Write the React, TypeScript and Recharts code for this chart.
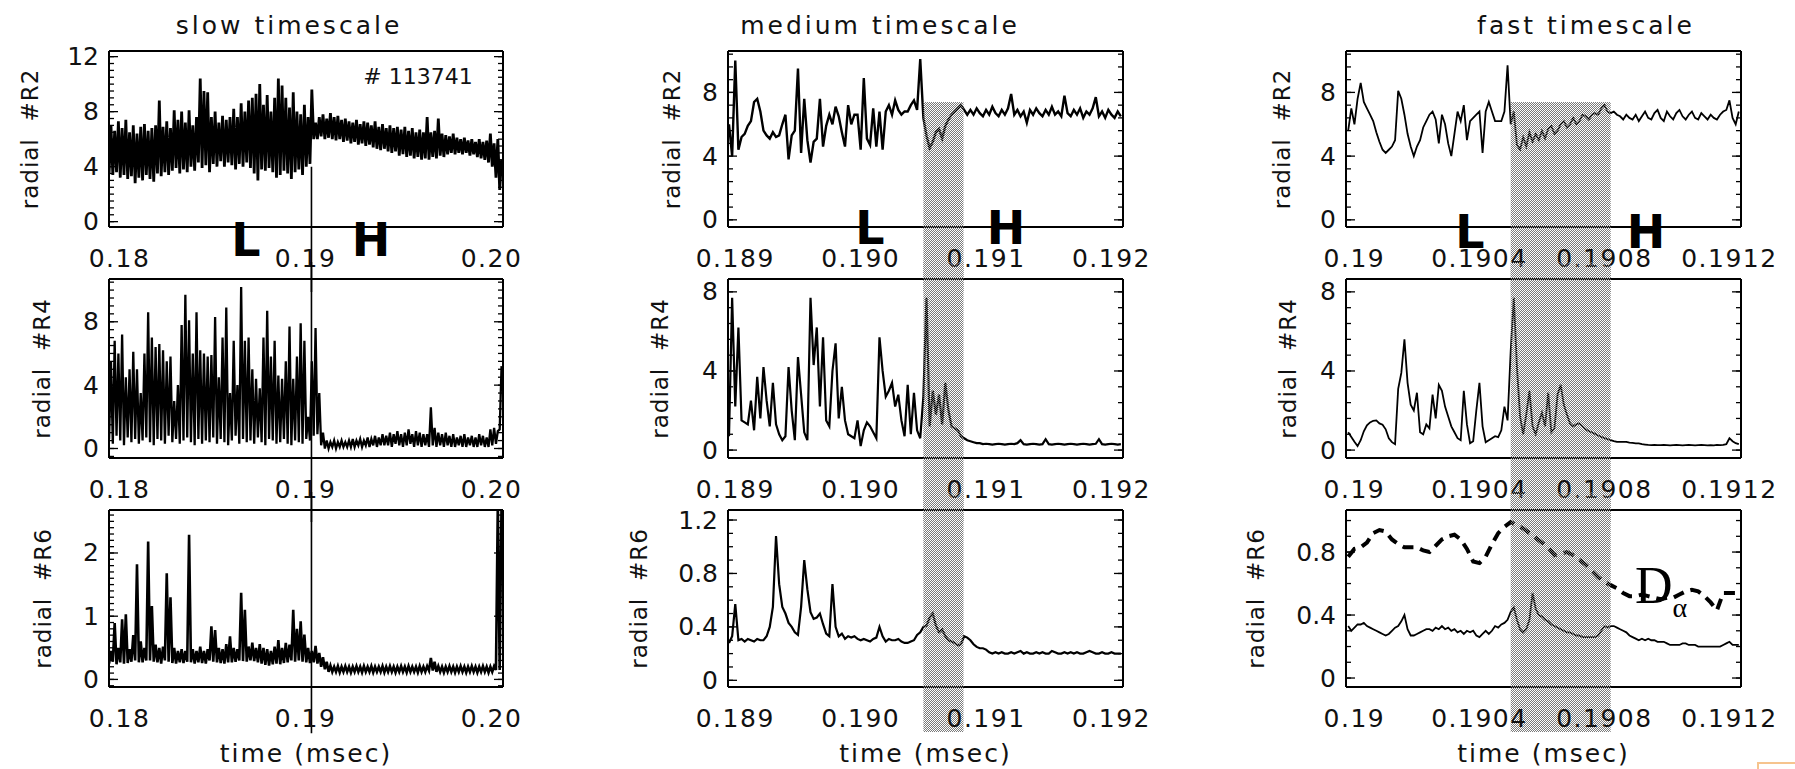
import React from 'react';
import { LineChart, Line, XAxis, YAxis, ReferenceArea, ReferenceLine } from 'recharts';

const FONT = '"DejaVu Sans", Verdana, sans-serif';
const INK = '#000';

const SLOW_T0 = 0.17944;
const SLOW_DT = 0.0002;
const MED_T0 = 0.18895;
const MED_DT = 0.000025;
const FAST_T0 = 0.18998;
const FAST_DT = 0.00001;
const DA_DT = 0.00002;

const LH_TIME = 0.19032;
const SHADE_T = [0.1905, 0.19082];

// ---- slow timescale: lower / upper envelope of the dense signal ----
const slowR2Lo = [
  3.5, 3.4, 3.6, 3.2, 3.4, 3.1, 3.3, 2.8, 3.2, 3.0,
  3.4, 3.1, 2.9, 3.5, 3.3, 3.6, 3.4, 3.7, 3.9, 3.5,
  3.8, 3.6, 4.0, 3.7, 4.3, 3.9, 4.1, 3.6, 4.2, 4.0,
  4.4, 4.0, 4.3, 4.1, 3.8, 4.2, 4.0, 4.3, 3.9, 3.5,
  3.0, 3.8, 3.7, 3.9, 3.6, 3.2, 3.4, 3.7, 3.5, 3.1,
  3.6, 3.8, 3.4, 4.0, 4.2, 6.0, 6.0, 6.2, 6.0, 6.1,
  6.0, 5.9, 6.0, 5.8, 5.9, 5.7, 5.8, 5.6, 5.7, 5.5,
  5.6, 5.4, 5.3, 5.2, 5.3, 5.1, 5.0, 5.1, 4.8, 4.9,
  4.7, 4.8, 4.6, 4.7, 4.5, 4.6, 4.5, 4.7, 4.6, 4.8,
  4.7, 4.9, 5.0, 4.9, 5.0, 4.9, 5.0, 4.8, 4.9, 4.7,
  4.6, 4.5, 4.3, 4.0, 3.2, 2.3,
];
const slowR2Hi = [
  7.0, 6.6, 7.3, 6.8, 7.4, 6.5, 7.0, 6.4, 6.9, 7.1,
  6.6, 6.8, 7.0, 8.8, 6.9, 7.3, 6.8, 8.1, 7.4, 8.0,
  7.2, 8.1, 7.0, 7.6, 10.4, 9.5, 9.4, 7.6, 8.0, 7.2,
  7.7, 7.4, 7.6, 8.2, 7.6, 8.6, 8.0, 8.8, 9.0, 9.3,
  10.0, 8.5, 9.2, 8.0, 9.0, 10.4, 9.9, 9.0, 8.3, 9.4,
  8.0, 7.8, 8.5, 7.6, 9.6, 7.2, 7.6, 7.8, 7.5, 7.9,
  7.6, 7.7, 7.4, 7.5, 7.3, 7.2, 7.4, 7.1, 7.3, 7.2,
  7.0, 7.3, 6.9, 7.1, 6.8, 7.0, 6.8, 6.9, 6.7, 6.9,
  6.6, 6.8, 6.5, 6.7, 6.5, 7.6, 6.5, 6.6, 7.5, 6.4,
  6.3, 6.2, 6.4, 6.1, 6.0, 6.1, 5.9, 6.0, 5.8, 6.0,
  5.8, 5.9, 6.4, 5.7, 6.0, 4.5,
];
const slowR4Lo = [
  0.6, 0.3, 0.8, 0.5, 0.2, 0.7, 0.4, 0.6, 0.3, 0.5,
  0.7, 0.4, 0.2, 0.6, 0.5, 0.3, 0.8, 0.4, 0.6, 0.3,
  0.5, 0.7, 0.4, 0.2, 0.6, 0.3, 0.5, 0.4, 0.7, 0.3,
  0.6, 0.4, 0.2, 0.5, 0.8, 0.3, 0.6, 0.4, 0.5, 0.3,
  0.7, 0.4, 0.2, 0.6, 0.5, 0.3, 0.4, 0.6, 0.3, 0.2,
  0.5, 0.4, 0.3, 0.6, 0.5, 0.8, 0.9, 0.2, 0.0, 0.0,
  0.1, 0.0, 0.1, 0.1, 0.1, 0.1, 0.1, 0.2, 0.1, 0.2,
  0.1, 0.2, 0.1, 0.2, 0.2, 0.2, 0.1, 0.3, 0.2, 0.1,
  0.2, 0.3, 0.1, 0.2, 0.1, 0.2, 0.1, 0.2, 0.1, 0.2,
  0.1, 0.2, 0.1, 0.1, 0.2, 0.1, 0.1, 0.2, 0.1, 0.1,
  0.2, 0.1, 0.1, 0.2, 0.3, 1.2,
];
const slowR4Hi = [
  5.5, 6.8, 6.0, 7.2, 4.5, 5.0, 6.1, 5.0, 3.5, 6.0,
  8.6, 7.0, 6.4, 6.6, 6.2, 5.5, 5.8, 3.0, 4.0, 7.8,
  9.7, 8.1, 6.0, 8.6, 6.2, 6.0, 5.8, 5.9, 8.3, 4.5,
  7.0, 8.9, 3.5, 6.8, 4.0, 10.2, 6.8, 7.0, 5.0, 4.4,
  3.8, 7.0, 8.7, 5.8, 6.8, 4.6, 4.4, 5.5, 7.7, 4.4,
  5.8, 7.9, 6.8, 2.0, 5.5, 7.6, 3.5, 1.0, 0.5, 0.4,
  0.5, 0.4, 0.5, 0.4, 0.5, 0.6, 0.5, 0.6, 0.5, 0.7,
  0.6, 0.8, 0.7, 0.9, 0.8, 1.0, 0.9, 1.1, 0.9, 1.0,
  1.2, 0.9, 1.1, 1.0, 0.9, 0.9, 2.6, 1.3, 1.0, 0.9,
  1.0, 0.8, 0.9, 0.7, 0.8, 0.9, 0.7, 0.8, 0.7, 0.9,
  0.8, 0.7, 1.2, 1.3, 1.1, 5.2,
];
const slowR6Lo = [
  0.25, 0.28, 0.24, 0.27, 0.25, 0.26, 0.28, 0.30, 0.27, 0.27,
  0.30, 0.30, 0.28, 0.27, 0.25, 0.30, 0.28, 0.26, 0.25, 0.27,
  0.26, 0.28, 0.27, 0.25, 0.27, 0.26, 0.25, 0.30, 0.28, 0.27,
  0.26, 0.25, 0.27, 0.27, 0.28, 0.30, 0.29, 0.28, 0.30, 0.29,
  0.27, 0.25, 0.23, 0.22, 0.24, 0.25, 0.24, 0.26, 0.27, 0.30,
  0.28, 0.30, 0.28, 0.27, 0.26, 0.27, 0.25, 0.20, 0.16, 0.12,
  0.12, 0.12, 0.11, 0.12, 0.12, 0.11, 0.12, 0.12, 0.11, 0.12,
  0.12, 0.11, 0.12, 0.12, 0.11, 0.12, 0.12, 0.11, 0.12, 0.12,
  0.11, 0.12, 0.12, 0.11, 0.12, 0.12, 0.14, 0.14, 0.12, 0.12,
  0.11, 0.12, 0.12, 0.11, 0.12, 0.12, 0.11, 0.12, 0.12, 0.11,
  0.12, 0.12, 0.11, 0.12, 0.15, 0.15,
];
const slowR6Hi = [
  0.45, 0.89, 0.50, 0.95, 1.03, 0.48, 0.70, 1.82, 0.60, 0.50,
  2.18, 1.16, 0.55, 0.50, 0.52, 1.68, 1.30, 0.50, 0.45, 0.48,
  0.45, 2.29, 0.48, 0.45, 0.52, 0.45, 0.48, 0.84, 0.78, 0.50,
  0.48, 0.56, 0.68, 0.50, 0.48, 1.37, 1.10, 0.52, 0.58, 0.50,
  0.56, 0.50, 0.48, 0.45, 0.52, 0.62, 0.50, 0.58, 0.55, 1.10,
  0.80, 0.92, 0.71, 0.50, 0.45, 0.53, 0.42, 0.35, 0.28, 0.22,
  0.20, 0.21, 0.20, 0.21, 0.20, 0.20, 0.21, 0.20, 0.21, 0.20,
  0.21, 0.20, 0.20, 0.21, 0.20, 0.21, 0.20, 0.20, 0.21, 0.20,
  0.21, 0.20, 0.20, 0.21, 0.20, 0.21, 0.34, 0.28, 0.21, 0.20,
  0.20, 0.21, 0.20, 0.20, 0.21, 0.20, 0.20, 0.21, 0.20, 0.20,
  0.21, 0.20, 0.20, 0.21, 2.80, 2.80,
];

// ---- medium timescale ----
const medR2 = [
  6.0, 4.0, 10.0, 4.4, 5.2, 5.4, 5.9, 6.2, 7.4, 7.6,
  6.8, 5.6, 5.3, 5.1, 5.5, 5.2, 5.3, 6.0, 6.6, 3.8,
  5.3, 5.6, 9.5, 4.2, 7.6, 5.0, 3.6, 4.9, 5.1, 7.6,
  4.6, 5.9, 6.6, 6.0, 7.1, 6.5, 5.5, 4.6, 7.2, 6.0,
  6.6, 6.6, 4.4, 8.9, 5.1, 4.7, 7.0, 4.6, 6.8, 4.4,
  6.8, 7.2, 6.6, 7.5, 6.9, 6.6, 6.8, 6.8, 7.2, 7.5,
  6.9, 10.1, 6.4, 5.3, 4.5, 4.9, 5.5, 5.7, 5.1, 5.9,
  6.3, 6.6, 6.8, 7.0, 7.2, 6.9, 6.6, 6.9, 6.6, 7.0,
  6.7, 6.5, 6.9, 6.6, 7.1, 6.7, 6.5, 6.9, 6.6, 7.0,
  7.9, 6.6, 6.9, 6.5, 6.8, 6.1, 6.9, 6.6, 7.0, 6.7,
  6.5, 6.9, 6.6, 7.1, 6.6, 6.8, 6.5, 7.8, 6.7, 6.5,
  6.9, 6.6, 7.0, 6.4, 6.8, 6.6, 7.0, 7.7, 6.5, 6.8,
  6.4, 6.9, 6.6, 6.4, 6.8, 6.5,
];
const medR4 = [
  0.7, 7.7, 2.2, 6.2, 1.5, 1.4, 1.3, 2.5, 1.0, 3.7,
  1.6, 4.2, 2.5, 1.2, 3.4, 1.3, 0.8, 0.5, 0.7, 4.2,
  2.0, 0.5, 4.7, 2.8, 0.9, 0.5, 7.7, 4.3, 6.2, 2.2,
  5.7, 1.5, 1.2, 4.0, 5.4, 1.6, 3.2, 1.5, 0.8, 0.7,
  0.6, 1.5, 0.2, 1.0, 1.4, 1.2, 0.9, 0.6, 5.7, 4.0,
  2.7, 3.0, 3.4, 2.2, 2.8, 1.5, 0.7, 3.3, 0.8, 2.9,
  1.0, 0.6, 2.7, 7.7, 1.2, 3.0, 1.8, 2.8, 1.3, 3.4,
  2.0, 1.2, 1.1, 1.0, 0.7, 0.6, 0.5, 0.45, 0.4, 0.35,
  0.35, 0.3, 0.32, 0.3, 0.28, 0.3, 0.32, 0.3, 0.28, 0.3,
  0.32, 0.3, 0.35, 0.5, 0.3, 0.28, 0.3, 0.32, 0.3, 0.28,
  0.3, 0.55, 0.3, 0.28, 0.3, 0.32, 0.3, 0.28, 0.3, 0.32,
  0.3, 0.28, 0.3, 0.32, 0.3, 0.28, 0.3, 0.32, 0.55, 0.3,
  0.28, 0.3, 0.32, 0.3, 0.28, 0.3,
];
const medR6 = [
  0.28, 0.33, 0.57, 0.30, 0.31, 0.29, 0.31, 0.30, 0.29, 0.31,
  0.30, 0.30, 0.33, 0.40, 0.55, 1.08, 0.72, 0.55, 0.50, 0.43,
  0.40, 0.36, 0.34, 0.55, 0.90, 0.68, 0.51, 0.46, 0.47, 0.50,
  0.42, 0.35, 0.33, 0.72, 0.40, 0.33, 0.35, 0.31, 0.33, 0.32,
  0.33, 0.31, 0.30, 0.31, 0.30, 0.29, 0.31, 0.32, 0.40, 0.33,
  0.29, 0.31, 0.30, 0.30, 0.31, 0.29, 0.28, 0.28, 0.29, 0.30,
  0.34, 0.36, 0.40, 0.41, 0.47, 0.50, 0.41, 0.36, 0.38, 0.33,
  0.30, 0.29, 0.28, 0.26, 0.27, 0.33, 0.32, 0.30, 0.27, 0.25,
  0.24, 0.24, 0.23, 0.21, 0.20, 0.21, 0.20, 0.21, 0.20, 0.20,
  0.21, 0.20, 0.21, 0.22, 0.20, 0.21, 0.20, 0.20, 0.21, 0.20,
  0.21, 0.20, 0.20, 0.22, 0.21, 0.20, 0.20, 0.21, 0.20, 0.21,
  0.20, 0.21, 0.20, 0.20, 0.21, 0.22, 0.21, 0.20, 0.20, 0.21,
  0.20, 0.20, 0.21, 0.20, 0.20, 0.20,
];

// ---- fast timescale ----
const fastR2 = [
  5.6, 7.0, 6.0, 7.6, 8.6, 7.4, 7.0, 6.6, 6.2, 5.5,
  4.9, 4.4, 4.2, 4.4, 4.6, 5.0, 8.1, 7.6, 6.6, 5.4,
  4.6, 4.0, 4.6, 5.0, 5.8, 6.2, 6.6, 6.8, 6.3, 4.8,
  6.6, 6.0, 4.8, 4.0, 5.4, 6.8, 6.2, 7.2, 5.0, 6.2,
  6.4, 6.6, 6.8, 4.2, 6.8, 7.4, 6.8, 6.2, 6.2, 6.2,
  6.8, 9.7, 6.0, 6.8, 4.7, 4.4, 5.2, 4.6, 5.5, 4.9,
  5.4, 5.0, 5.6, 5.1, 5.7, 5.9, 5.4, 5.6, 6.0, 6.2,
  5.8, 6.0, 6.4, 6.0, 6.2, 6.6, 6.5, 6.3, 6.6, 6.7,
  6.6, 7.0, 7.2, 6.8, 6.7, 6.8, 6.6, 6.5, 6.3, 6.6,
  6.4, 6.3, 6.6, 6.2, 6.5, 6.8, 6.4, 6.3, 6.7, 6.9,
  6.4, 6.2, 6.8, 6.5, 6.3, 6.7, 6.9, 6.5, 6.3, 6.6,
  6.8, 6.4, 6.3, 6.7, 6.5, 6.3, 6.6, 6.4, 6.3, 6.6,
  6.8, 6.9, 7.5, 6.4, 6.0, 6.8,
];
const fastR4 = [
  0.9, 0.66, 0.42, 0.2, 0.5, 0.95, 1.25, 1.4, 1.48, 1.5,
  1.35, 1.28, 1.05, 0.6, 0.4, 0.3, 3.1, 3.9, 5.6, 3.4,
  2.3, 2.0, 2.9, 0.9, 0.8, 1.3, 1.1, 2.8, 1.6, 3.3,
  3.0, 2.2, 1.7, 1.2, 0.9, 0.6, 0.5, 3.0, 1.3, 0.35,
  0.45, 2.0, 3.4, 1.2, 0.4, 0.5, 0.6, 0.7, 0.65, 1.0,
  2.2, 1.5, 5.0, 7.7, 4.2, 1.7, 0.8, 1.8, 3.0, 1.2,
  0.8, 1.4, 1.9, 1.2, 2.9, 0.9, 1.1, 2.8, 3.3, 2.3,
  1.8, 1.35, 1.2, 1.3, 1.35, 1.2, 1.05, 0.95, 0.9, 0.82,
  0.74, 0.67, 0.6, 0.55, 0.5, 0.45, 0.42, 0.42, 0.42, 0.42,
  0.38, 0.36, 0.34, 0.34, 0.3, 0.28, 0.26, 0.25, 0.26, 0.25,
  0.25, 0.26, 0.25, 0.24, 0.25, 0.26, 0.25, 0.24, 0.25, 0.26,
  0.25, 0.24, 0.25, 0.26, 0.25, 0.24, 0.25, 0.24, 0.26, 0.25,
  0.26, 0.3, 0.6, 0.45, 0.35, 0.3,
];
const fastR6 = [
  0.33, 0.30, 0.32, 0.34, 0.34, 0.35, 0.33, 0.32, 0.31, 0.30,
  0.29, 0.28, 0.27, 0.28, 0.30, 0.32, 0.33, 0.36, 0.40, 0.31,
  0.27, 0.27, 0.28, 0.29, 0.30, 0.31, 0.31, 0.30, 0.32, 0.31,
  0.33, 0.31, 0.32, 0.30, 0.31, 0.29, 0.30, 0.28, 0.30, 0.29,
  0.30, 0.27, 0.26, 0.28, 0.30, 0.28, 0.30, 0.33, 0.32, 0.34,
  0.35, 0.37, 0.42, 0.45, 0.37, 0.31, 0.29, 0.31, 0.37, 0.54,
  0.44, 0.40, 0.39, 0.37, 0.36, 0.34, 0.33, 0.32, 0.31, 0.30,
  0.29, 0.29, 0.28, 0.27, 0.27, 0.26, 0.26, 0.26, 0.26, 0.26,
  0.27, 0.30, 0.33, 0.32, 0.33, 0.33, 0.32, 0.31, 0.30, 0.29,
  0.27, 0.26, 0.25, 0.24, 0.25, 0.24, 0.25, 0.24, 0.24, 0.23,
  0.23, 0.23, 0.22, 0.21, 0.21, 0.21, 0.21, 0.22, 0.22, 0.21,
  0.21, 0.21, 0.20, 0.20, 0.20, 0.20, 0.20, 0.20, 0.20, 0.20,
  0.21, 0.22, 0.23, 0.21, 0.21, 0.21,
];
// D-alpha (dashed), coarser sampling
const fastDa = [
  0.77, 0.82, 0.83, 0.86, 0.92, 0.94, 0.93, 0.88, 0.85, 0.83,
  0.83, 0.83, 0.81, 0.80, 0.84, 0.88, 0.90, 0.91, 0.88, 0.82,
  0.74, 0.73, 0.77, 0.85, 0.92, 0.96, 0.99, 0.97, 0.95, 0.92,
  0.89, 0.86, 0.83, 0.78, 0.79, 0.80, 0.78, 0.75, 0.72, 0.68,
  0.64, 0.61, 0.59, 0.57, 0.54, 0.52, 0.52, 0.53, 0.52, 0.51,
  0.50, 0.51, 0.51, 0.53, 0.55, 0.56, 0.55, 0.52, 0.48, 0.43,
  0.54, 0.54, 0.54,
];

// ---- tick labels ----
const slowXTicks = [0.18, 0.19, 0.2];
const slowXLabels = ['0.18', '0.19', '0.20'];
const medXTicks = [0.189, 0.19, 0.191, 0.192];
const medXLabels = ['0.189', '0.190', '0.191', '0.192'];
const fastXTicks = [0.19, 0.1904, 0.1908, 0.1912];
const fastXLabels = ['0.19', '0.1904', '0.1908', '0.1912'];

type Pt = { t: number; v: number };
const series = (vals: number[], t0: number, dt: number): Pt[] =>
  vals.map((v, i) => ({ t: t0 + i * dt, v }));
const band = (lo: number[], hi: number[], t0: number, dt: number): Pt[] =>
  lo.flatMap((l, i) => [
    { t: t0 + i * dt, v: l },
    { t: t0 + (i + 0.5) * dt, v: hi[i] },
  ]);
const steps = (a: number, b: number, s: number) => {
  const out: number[] = [];
  for (let k = Math.ceil(a / s - 1e-6); k * s <= b + 1e-12; k++) out.push(+(k * s).toFixed(8));
  return out;
};
const labelOf = (ticks: number[], labels: string[], v: number) => {
  const i = ticks.findIndex((t) => Math.abs(t - v) < 1e-9);
  return i >= 0 ? labels[i] : '';
};

// layout (pixels); row svgs overlap a little, starting on even pixels so the stipple lines up
const colBox = [[109, 503], [728, 1123], [1346, 1741]];
const rowBox = [[51, 227], [279, 458], [510, 687]];
const colSvg = [[0, 615], [615, 1235], [1235, 1795]];
const rowSvg = [[0, 292], [262, 522], [492, 769]];
const Y_W = 40;
const X_H = 30;

type LineSpec = { data: Pt[]; width: number; dash?: string };
type PanelCfg = {
  key: string; col: number; row: number;
  xDomain: [number, number]; xTicks: number[]; xLabels: string[]; xMajor: number; xMinor: number;
  yDomain: [number, number]; yTicks: number[]; yLabels: string[]; yMinor: number;
  yTitle: string; titleGap: number;
  lines: LineSpec[];
  shade?: [number, number]; lh?: [number, number]; time?: boolean;
};

const SLOW_X: [number, number] = [0.179435, 0.200618];
const MED_X: [number, number] = [0.188942, 0.192092];
const FAST_X: [number, number] = [0.189973, 0.191237];

const slowCommon = { col: 0, xDomain: SLOW_X, xTicks: slowXTicks, xLabels: slowXLabels, xMajor: 0.005, xMinor: 0.001 };
const medCommon = { col: 1, xDomain: MED_X, xTicks: medXTicks, xLabels: medXLabels, xMajor: 0.0005, xMinor: 0.0001 };
const fastCommon = { col: 2, xDomain: FAST_X, xTicks: fastXTicks, xLabels: fastXLabels, xMajor: 0.0002, xMinor: 0.00005 };

const panels: PanelCfg[] = [
  { key: 's2', ...slowCommon, row: 0, yDomain: [-0.39, 12.41], yTicks: [0, 4, 8, 12], yLabels: ['0', '4', '8', '12'], yMinor: 0.5,
    yTitle: 'radial  #R2', titleGap: 79, lines: [{ data: band(slowR2Lo, slowR2Hi, SLOW_T0, SLOW_DT), width: 2.8 }], lh: [4.0, -40] },
  { key: 's4', ...slowCommon, row: 1, yDomain: [-0.6, 10.7], yTicks: [0, 4, 8], yLabels: ['0', '4', '8'], yMinor: 0.5,
    yTitle: 'radial  #R4', titleGap: 67, lines: [{ data: band(slowR4Lo, slowR4Hi, SLOW_T0, SLOW_DT), width: 2.3 }], lh: [40, -40] },
  { key: 's6', ...slowCommon, row: 2, yDomain: [-0.12, 2.68], yTicks: [0, 1, 2], yLabels: ['0', '1', '2'], yMinor: 0.1,
    yTitle: 'radial  #R6', titleGap: 66, lines: [{ data: band(slowR6Lo, slowR6Hi, SLOW_T0, SLOW_DT), width: 2.6 }], lh: [5, -0.85], time: true },
  { key: 'm2', ...medCommon, row: 0, yDomain: [-0.45, 10.6], yTicks: [0, 4, 8], yLabels: ['0', '4', '8'], yMinor: 0.8,
    yTitle: 'radial  #R2', titleGap: 56, lines: [{ data: series(medR2, MED_T0, MED_DT), width: 2.4 }], shade: [7.4, -40] },
  { key: 'm4', ...medCommon, row: 1, yDomain: [-0.4, 8.65], yTicks: [0, 4, 8], yLabels: ['0', '4', '8'], yMinor: 0.8,
    yTitle: 'radial  #R4', titleGap: 68, lines: [{ data: series(medR4, MED_T0, MED_DT), width: 2.2 }], shade: [40, -40] },
  { key: 'm6', ...medCommon, row: 2, yDomain: [-0.05, 1.275], yTicks: [0, 0.4, 0.8, 1.2], yLabels: ['0', '0.4', '0.8', '1.2'], yMinor: 0.1,
    yTitle: 'radial  #R6', titleGap: 89, lines: [{ data: series(medR6, MED_T0, MED_DT), width: 2.2 }], shade: [5, -0.387], time: true },
  { key: 'f2', ...fastCommon, row: 0, yDomain: [-0.45, 10.6], yTicks: [0, 4, 8], yLabels: ['0', '4', '8'], yMinor: 0.8,
    yTitle: 'radial  #R2', titleGap: 64, lines: [{ data: series(fastR2, FAST_T0, FAST_DT), width: 1.8 }], shade: [7.4, -40] },
  { key: 'f4', ...fastCommon, row: 1, yDomain: [-0.4, 8.65], yTicks: [0, 4, 8], yLabels: ['0', '4', '8'], yMinor: 0.8,
    yTitle: 'radial  #R4', titleGap: 58, lines: [{ data: series(fastR4, FAST_T0, FAST_DT), width: 1.8 }], shade: [40, -40] },
  { key: 'f6', ...fastCommon, row: 2, yDomain: [-0.057, 1.067], yTicks: [0, 0.4, 0.8], yLabels: ['0', '0.4', '0.8'], yMinor: 0.1,
    yTitle: 'radial  #R6', titleGap: 90,
    lines: [
      { data: series(fastR6, FAST_T0, FAST_DT), width: 1.8 },
      { data: series(fastDa, FAST_T0, DA_DT), width: 4, dash: '11 7' },
    ],
    shade: [5, -0.343], time: true },
];

// inward tick marks, drawn from the axis position the library hands to the tick
const tickMark = (dx: number, dy: number) => (tp: any) => (
  <line x1={tp.x} y1={tp.y} x2={tp.x + dx} y2={tp.y + dy} stroke={INK} strokeWidth={1.3} />
);

function Panel({ p }: { p: PanelCfg }) {
  const [bx0, bx1] = colBox[p.col];
  const [by0, by1] = rowBox[p.row];
  const [sx0, sx1] = colSvg[p.col];
  const [sy0, sy1] = rowSvg[p.row];
  const margin = { left: bx0 - sx0 - Y_W, right: sx1 - bx1, top: by0 - sy0, bottom: sy1 - by1 - X_H };
  const xMaj = steps(p.xDomain[0], p.xDomain[1], p.xMajor);
  const xMin = steps(p.xDomain[0], p.xDomain[1], p.xMinor);
  const yMin = steps(p.yDomain[0], p.yDomain[1], p.yMinor);
  const frame = { stroke: INK, strokeWidth: 2 };
  const quiet = { tickLine: false, tickSize: 0, tickMargin: 0, interval: 0 as const, allowDataOverflow: true };

  const xTick = (tp: any) => (
    <text x={tp.x} y={tp.y + 31} textAnchor="middle" dominantBaseline="central"
      fontFamily={FONT} fontSize={25} letterSpacing={1.5} fill="#111">
      {labelOf(p.xTicks, p.xLabels, tp.payload.value)}
    </text>
  );
  const yTick = (tp: any) => (
    <text x={tp.x - 10} y={tp.y} textAnchor="end" dominantBaseline="central"
      fontFamily={FONT} fontSize={25} fill="#111">
      {labelOf(p.yTicks, p.yLabels, tp.payload.value)}
    </text>
  );
  const yTitle = (lp: any) => {
    const vb = lp && lp.viewBox;
    if (!vb) return null;
    const cx = vb.x + vb.width - p.titleGap;
    const cy = vb.y + vb.height / 2;
    return (
      <text x={cx} y={cy} transform={`rotate(-90 ${cx} ${cy})`} textAnchor="middle" dominantBaseline="central"
        fontFamily={FONT} fontSize={23} letterSpacing={1} fill="#111" style={{ whiteSpace: 'pre' }}>
        {p.yTitle}
      </text>
    );
  };
  const timeTitle = (lp: any) => {
    const vb = lp && lp.viewBox;
    if (!vb) return null;
    return (
      <text x={vb.x + vb.width / 2} y={vb.y + 66} textAnchor="middle" dominantBaseline="central"
        fontFamily={FONT} fontSize={25} letterSpacing={2} fill="#111">
        time (msec)
      </text>
    );
  };

  return (
    <div style={{ position: 'absolute', left: sx0, top: sy0 }}>
      <LineChart width={sx1 - sx0} height={sy1 - sy0} margin={margin}>
        <XAxis xAxisId="b" dataKey="t" type="number" domain={p.xDomain} ticks={p.xTicks} {...quiet}
          height={X_H} axisLine={frame} tick={xTick} label={p.time ? timeTitle : undefined} />
        <XAxis xAxisId="bM" type="number" domain={p.xDomain} ticks={xMaj} {...quiet}
          mirror height={1} axisLine={false} tick={tickMark(0, -9)} />
        <XAxis xAxisId="bm" type="number" domain={p.xDomain} ticks={xMin} {...quiet}
          mirror height={1} axisLine={false} tick={tickMark(0, -4)} />
        <XAxis xAxisId="tM" orientation="top" type="number" domain={p.xDomain} ticks={xMaj} {...quiet}
          mirror height={1} axisLine={frame} tick={tickMark(0, 9)} />
        <XAxis xAxisId="tm" orientation="top" type="number" domain={p.xDomain} ticks={xMin} {...quiet}
          mirror height={1} axisLine={false} tick={tickMark(0, 4)} />
        <YAxis yAxisId="l" type="number" domain={p.yDomain} ticks={p.yTicks} {...quiet}
          width={Y_W} axisLine={frame} tick={yTick} label={yTitle} />
        <YAxis yAxisId="lM" type="number" domain={p.yDomain} ticks={p.yTicks} {...quiet}
          mirror width={1} axisLine={false} tick={tickMark(9, 0)} />
        <YAxis yAxisId="lm" type="number" domain={p.yDomain} ticks={yMin} {...quiet}
          mirror width={1} axisLine={false} tick={tickMark(4, 0)} />
        <YAxis yAxisId="rM" orientation="right" type="number" domain={p.yDomain} ticks={p.yTicks} {...quiet}
          mirror width={1} axisLine={frame} tick={tickMark(-9, 0)} />
        <YAxis yAxisId="rm" orientation="right" type="number" domain={p.yDomain} ticks={yMin} {...quiet}
          mirror width={1} axisLine={false} tick={tickMark(-4, 0)} />
        {p.lines.map((s, k) => (
          <Line key={k} xAxisId="b" yAxisId="l" data={s.data} dataKey="v" type="linear" stroke={INK}
            strokeWidth={s.width} strokeDasharray={s.dash} dot={false} activeDot={false}
            isAnimationActive={false} />
        ))}
        {p.lh && (
          <ReferenceLine xAxisId="b" yAxisId="l" ifOverflow="visible" stroke={INK} strokeWidth={1.6}
            segment={[{ x: LH_TIME, y: p.lh[0] }, { x: LH_TIME, y: p.lh[1] }]} />
        )}
        {p.shade && (
          <ReferenceArea xAxisId="b" yAxisId="l" ifOverflow="visible" x1={SHADE_T[0]} x2={SHADE_T[1]}
            y1={p.shade[0]} y2={p.shade[1]} fill="url(#stipple)" fillOpacity={1} stroke="none" zIndex={1500} />
        )}
      </LineChart>
    </div>
  );
}

const titles = [
  { text: 'slow timescale', x: 289 },
  { text: 'medium timescale', x: 880 },
  { text: 'fast timescale', x: 1586 },
];
const regimeMarks = [
  { text: 'L', x: 246, y: 240 }, { text: 'H', x: 371, y: 240 },
  { text: 'L', x: 870, y: 228 }, { text: 'H', x: 1006, y: 228 },
  { text: 'L', x: 1470, y: 232 }, { text: 'H', x: 1646, y: 232 },
];

const centered = (x: number, y: number): React.CSSProperties => ({
  position: 'absolute', left: x, top: y, transform: 'translate(-50%, -50%)', lineHeight: 1, whiteSpace: 'pre',
});

export default function App() {
  return (
    <div style={{ position: 'absolute', left: 0, top: 0, width: 1795, height: 769, background: '#fff', overflow: 'hidden', fontFamily: FONT }}>
      <svg width={0} height={0} style={{ position: 'absolute' }}>
        <defs>
          <pattern id="stipple" x={0} y={0} width={2} height={2} patternUnits="userSpaceOnUse">
            <rect x={0} y={0} width={1} height={1} fill="#7a7a7a" />
            <rect x={1} y={1} width={1} height={1} fill="#7a7a7a" />
          </pattern>
        </defs>
      </svg>
      {panels.map((p) => <Panel key={p.key} p={p} />)}
      {titles.map((t) => (
        <div key={t.text} style={{ ...centered(t.x, 25), fontSize: 25, letterSpacing: 3, color: '#111' }}>{t.text}</div>
      ))}
      {regimeMarks.map((m, i) => (
        <div key={i} style={{ ...centered(m.x, m.y), fontSize: 46, fontWeight: 'bold', color: '#000' }}>{m.text}</div>
      ))}
      <div style={{ ...centered(418, 77), fontSize: 22, color: '#111' }}># 113741</div>
      <div style={{ position: 'absolute', left: 1635, top: 560, fontFamily: '"Liberation Serif", serif', fontSize: 52, lineHeight: '52px', color: '#000' }}>
        D<span style={{ fontSize: 28, position: 'relative', top: 14 }}>α</span>
      </div>
      <div style={{ position: 'absolute', left: 1757, top: 762, width: 50, height: 20, border: '2px solid #f6c48e', borderRight: 'none', borderBottom: 'none' }} />
    </div>
  );
}
